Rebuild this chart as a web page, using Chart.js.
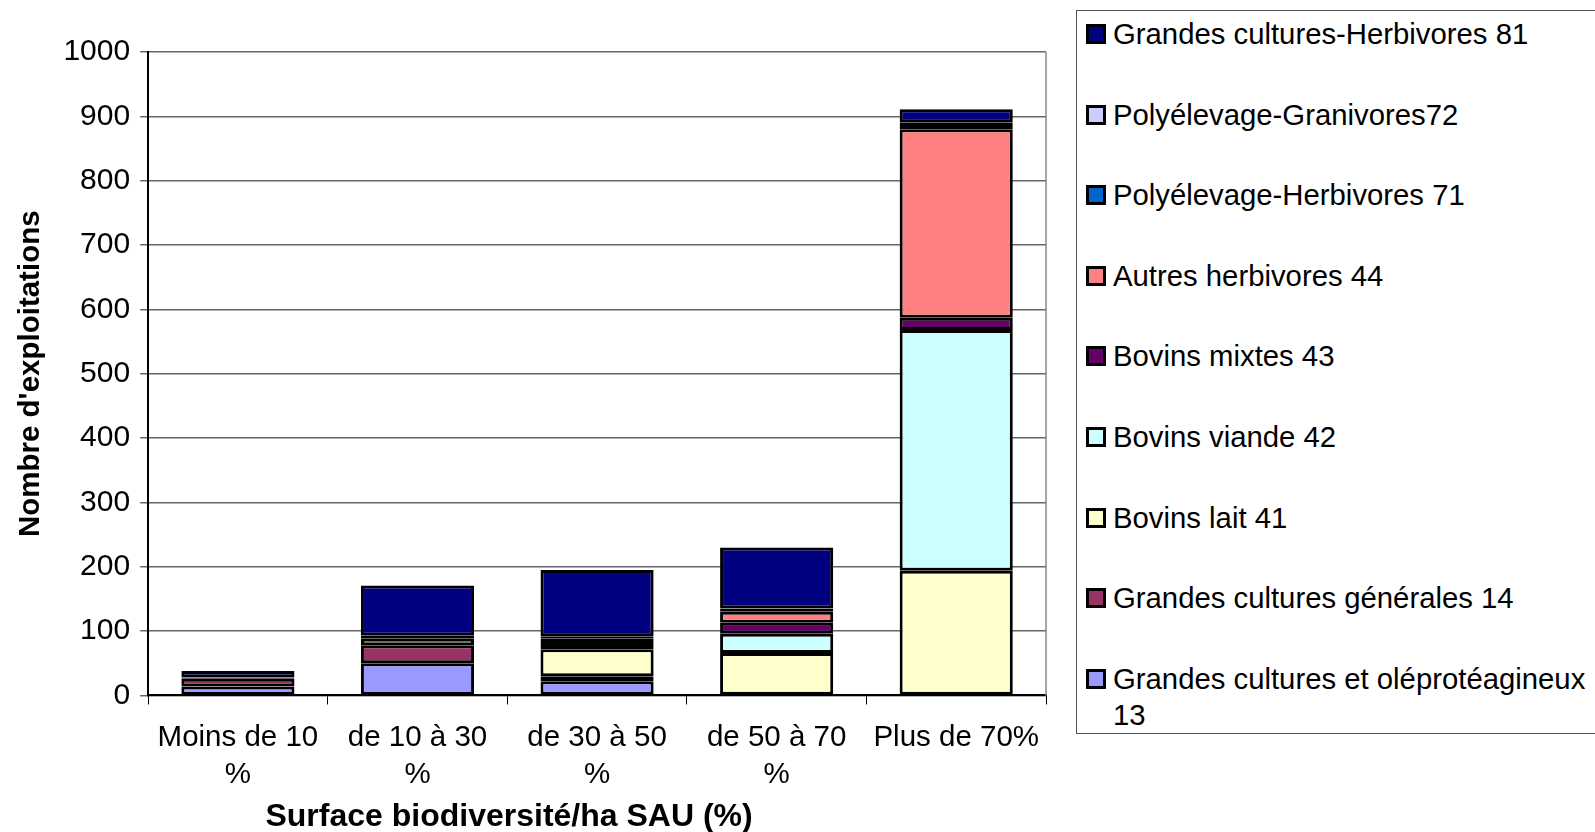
<!DOCTYPE html>
<html>
<head>
<meta charset="utf-8">
<script src="https://cdn.jsdelivr.net/npm/chart.js@4.4.1/dist/chart.umd.min.js"></script>
<style>
  html, body { margin: 0; padding: 0; background: #fff; }
  body { width: 1595px; height: 832px; overflow: hidden; position: relative; font-family: "Liberation Sans", Arial, sans-serif; }
  #wrap { position: absolute; left: 0; top: 0; width: 1060px; height: 832px; }
  #legend { position: absolute; left: 1076px; top: 10px; width: 530px; height: 724px; border: 1px solid #555; box-sizing: border-box; }
  .item { position: absolute; left: 9px; display: flex; align-items: flex-start; font-size: 29.3px; line-height: 36px; color: #000; width: 500px; }
  .sw { width: 14px; height: 14px; border: 3px solid #000; margin-top: 8px; margin-right: 7px; flex: none; }
</style>
</head>
<body>
<div id="wrap"><canvas id="chart"></canvas></div>
<div id="legend"></div>
<script>
const categories = [["Moins de 10", "%"], ["de 10 à 30", "%"], ["de 30 à 50", "%"], ["de 50 à 70", "%"], "Plus de 70%"];
const xTitle = "Surface biodiversité/ha SAU (%)";
const yTitle = "Nombre d'exploitations";

// stacked from bottom to top
const seriesNames = [
  "Grandes cultures et oléprotéagineux 13",
  "Grandes cultures générales 14",
  "Bovins lait 41",
  "Bovins viande 42",
  "Bovins mixtes 43",
  "Autres herbivores 44",
  "Polyélevage-Herbivores 71",
  "Polyélevage-Granivores72",
  "Grandes cultures-Herbivores 81"
];
const gco13 = [14, 50, 22, 0, 0];
const gcg14 = [12, 28, 8, 0, 0];
const lait41 = [0, 10, 42, 66, 194];
const viande42 = [0, 3, 0, 30, 374];
const mixtes43 = [0, 2, 8, 17, 19];
const autres44 = [2, 0, 8, 17, 293];
const polyHerb71 = [0, 0, 4, 5, 8];
const polyGran72 = [0, 0, 0, 0, 3];
const gch81 = [10, 78, 103, 95, 20];
const seriesValues = [gco13, gcg14, lait41, viande42, mixtes43, autres44, polyHerb71, polyGran72, gch81];
const seriesColors = ["#9999ff", "#993366", "#ffffcc", "#ccffff", "#660066", "#ff8080", "#0066cc", "#ccccff", "#000080"];
const yTicks = [0, 100, 200, 300, 400, 500, 600, 700, 800, 900, 1000];

const font = "'Liberation Sans', Arial, sans-serif";

const datasets = seriesNames.map((name, i) => ({
  label: name,
  data: seriesValues[i].map(v => v === 0 ? null : v),
  backgroundColor: seriesColors[i],
  borderColor: "#000",
  borderWidth: 3,
  borderSkipped: false,
  barPercentage: 0.63,
  categoryPercentage: 1
}));

const canvas = document.getElementById("chart");
canvas.width = 1060; canvas.height = 832;

new Chart(canvas, {
  type: "bar",
  data: { labels: categories, datasets: datasets },
  options: {
    responsive: false,
    animation: false,
    layout: { padding: { top: 52, right: 14, bottom: 24, left: 13 } },
    plugins: { legend: { display: false }, tooltip: { enabled: false } },
    scales: {
      x: {
        stacked: true,
        grid: { display: true, drawOnChartArea: false, color: "#000", tickLength: 9, offset: true },
        border: { color: "#000", width: 2 },
        ticks: { color: "#000", font: { family: font, size: 29.5, lineHeight: 1.28 }, padding: 14, maxRotation: 0 }
      },
      y: {
        stacked: true,
        min: 0, max: 1000,
        afterBuildTicks: (axis) => { axis.ticks = yTicks.map(v => ({ value: v })); },
        grid: { color: "#666", lineWidth: 1.5, tickLength: 8 },
        border: { color: "#000", width: 2 },
        ticks: { color: "#000", font: { family: font, size: 30 }, padding: 10, callback: v => String(v) },
        title: { display: true, text: yTitle, color: "#000", font: { family: font, size: 29.5, weight: "bold" }, padding: { top: 0, bottom: 5 } }
      }
    }
  },
  plugins: [{
    id: "extras",
    afterDraw(chart) {
      const a = chart.chartArea, c = chart.ctx;
      c.save();
      // right edge of plot area
      c.strokeStyle = "#888"; c.lineWidth = 1.5;
      c.beginPath(); c.moveTo(a.right, a.top); c.lineTo(a.right, a.bottom); c.stroke();
      // x axis title, centred a bit left of the plot as in the original
      c.fillStyle = "#000";
      c.font = "bold 32px " + font;
      c.textAlign = "center"; c.textBaseline = "middle";
      c.fillText(xTitle, (a.left + a.right) / 2 - 88, chart.height - 15);
      c.restore();
    }
  }]
});

// legend, top item = last dataset
const legend = document.getElementById("legend");
for (let k = 0; k < seriesNames.length; k++) {
  const i = seriesNames.length - 1 - k;
  const row = document.createElement("div");
  row.className = "item";
  row.style.top = (5 + k * 80.6) + "px";
  const sw = document.createElement("span");
  sw.className = "sw";
  sw.style.background = seriesColors[i];
  const tx = document.createElement("span");
  tx.textContent = seriesNames[i];
  row.appendChild(sw); row.appendChild(tx);
  legend.appendChild(row);
}
</script>
</body>
</html>
